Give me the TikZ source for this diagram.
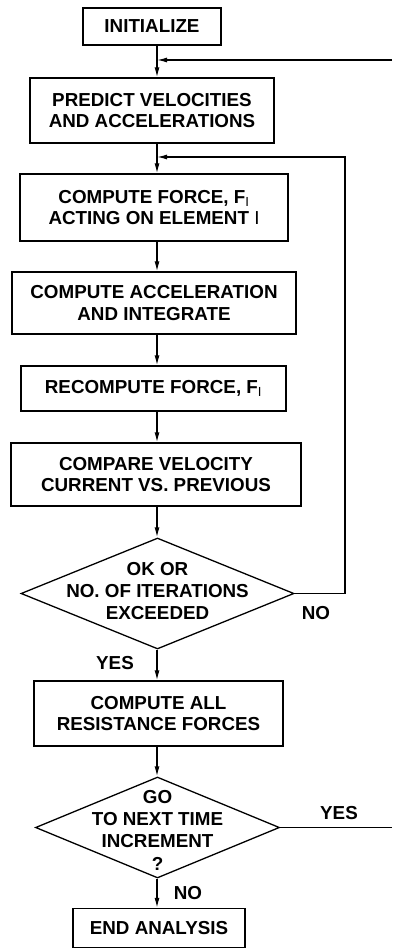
\documentclass[tikz,border=0pt]{standalone}
\usepackage{fontspec}
\setmainfont{Liberation Sans}
\usetikzlibrary{shapes.geometric,arrows.meta}
\begin{document}
\begin{tikzpicture}[x=1pt,y=-1pt,
 line width=1.3pt,
 box/.style={draw, rectangle, inner sep=0pt, align=center, font=\bfseries\fontsize{18.8}{21.8}\selectfont},
 dia/.style={draw, diamond, inner sep=0pt},
 txt/.style={align=center, inner sep=0pt, font=\bfseries\fontsize{18.8}{22.3}\selectfont},
 arr/.style={-{Latex[length=10pt,width=5pt]}},
]
\useasboundingbox (0,0) rectangle (392,949);
\coordinate (ax) at (157,0);
\node[box, minimum width=138pt, minimum height=37pt] (init) at (152,26.5) {INITIALIZE};
\node[box, minimum width=244pt, minimum height=65pt] (pred) at (152,110.5) {PREDICT VELOCITIES\\AND ACCELERATIONS};
\node[box, minimum width=268pt, minimum height=67pt] (force) at (154,207.5) {COMPUTE FORCE, F\textsubscript{\mdseries I}\\ACTING ON ELEMENT {\mdseries I}};
\node[box, minimum width=284pt, minimum height=62pt] (accel) at (154,303) {COMPUTE ACCELERATION\\AND INTEGRATE};
\node[box, minimum width=265pt, minimum height=45pt] (recomp) at (153.5,388.5) {RECOMPUTE FORCE, F\textsubscript{\mdseries I}};
\node[box, minimum width=290pt, minimum height=63pt] (compare) at (156,474.5) {COMPARE VELOCITY\\CURRENT VS. PREVIOUS};
\node[dia, minimum width=273pt, minimum height=111pt] (d1) at (157.5,593.5) {};
\node[txt] (d1t) at (157.5,591) {OK OR\\NO. OF ITERATIONS\\EXCEEDED};
\node[box, minimum width=249pt, minimum height=65pt] (resist) at (158.5,713.5) {COMPUTE ALL\\RESISTANCE FORCES};
\node[dia, minimum width=244pt, minimum height=101pt] (d2) at (157.5,827.5) {};
\node[txt] (d2t) at (157.5,830) {GO\\TO NEXT TIME\\INCREMENT\\?};
\node[box, minimum width=172pt, minimum height=39pt] (endan) at (159,928) {END ANALYSIS};
% labels
\node[txt] (lno1) at (316,613) {NO};
\node[txt] (lyes1) at (115,663) {YES};
\node[txt] (lyes2) at (339,813) {YES};
\node[txt] (lno2) at (188,893) {NO};
% flow arrows
\draw[arr] (init.south -| ax) -- (pred.north -| ax);
\draw[arr] (pred.south -| ax) -- (force.north -| ax);
\draw[arr] (force.south -| ax) -- (accel.north -| ax);
\draw[arr] (accel.south -| ax) -- (recomp.north -| ax);
\draw[arr] (recomp.south -| ax) -- (compare.north -| ax);
\draw[arr] (compare.south -| ax) -- (d1.north -| ax);
\draw[arr] (d1.south -| ax) -- (resist.north -| ax);
\draw[arr] (resist.south -| ax) -- (d2.north -| ax);
\draw[arr] (d2.south -| ax) -- (endan.north -| ax);
% loops
\coordinate (j1) at (157,60);
\coordinate (e2) at (392,60);
\draw[arr] (e2) -- (j1);
\coordinate (j2) at (157,157);
\coordinate (c2) at (345,157);
\draw[arr] (d1.east) -| (c2) -- (j2);
\coordinate (e1) at (392,827.5);
\draw (d2.east) -- (e1);
\end{tikzpicture}
\end{document}
